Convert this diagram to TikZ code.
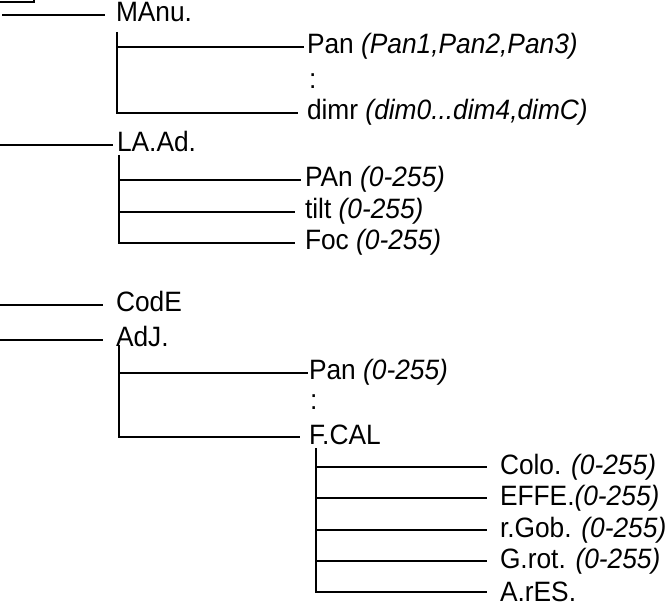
\documentclass[tikz,border=0pt]{standalone}
\usepackage{fontspec}
\setmainfont[FakeStretch=0.94]{Liberation Sans}
\usepackage{tikz}

\tikzset{
  item/.style={anchor=west, inner sep=0pt, text height=20pt, text depth=6pt,
    font=\fontsize{28}{32}\selectfont},
}

\begin{document}
\begin{tikzpicture}[x=1pt, y=-1pt, line width=2pt]
\useasboundingbox (0,0) rectangle (670,604) ;
% box corner
\draw (-10,-10) rectangle (34,2) ;
%% level 1
\node[item] (manu) at (115,15) {MAnu.} ;
\node[item] (laad) at (116,145) {LA.Ad.} ;
\node[item] (code) at (115,305) {CodE} ;
\node[item] (adj) at (115,340) {AdJ.} ;
\coordinate (r1) at (2,15) ;
\coordinate (r2) at (0,145) ;
\coordinate (r3) at (0,305) ;
\coordinate (r4) at (0,340) ;
\draw[shorten >=10pt] (r1) -- (manu.west) ;
\draw[shorten >=3pt] (r2) -- (laad.west) ;
\draw[shorten >=12pt] (r3) -- (code.west) ;
\draw[shorten >=12pt] (r4) -- (adj.west) ;
% box MAnu.
\node[item] (pana) at (306,47) {Pan \textit{(Pan1,Pan2,Pan3)}} ;
\node[item] (dota) at (308,82) {:} ;
\node[item] (dimr) at (306,113) {dimr \textit{(dim0...dim4,dimC)}} ;
\coordinate (va) at (117,32) ;
\draw[shorten >=2pt] (va |- pana.west) -- (pana.west) ;
\draw[shorten >=8pt] (va) |- (dimr.west) ;
% box LA.Ad.
\node[item] (panb) at (304,180) {PAn \textit{(0-255)}} ;
\node[item] (tilt) at (304,212) {tilt \textit{(0-255)}} ;
\node[item] (foc) at (304,243) {Foc \textit{(0-255)}} ;
\coordinate (vb) at (119,155) ;
\draw[shorten >=3pt] (vb |- panb.west) -- (panb.west) ;
\draw[shorten >=9pt] (vb |- tilt.west) -- (tilt.west) ;
\draw[shorten >=9pt] (vb) |- (foc.west) ;
% box AdJ.
\node[item] (panc) at (308,373) {Pan \textit{(0-255)}} ;
\node[item] (dotc) at (309,402) {:} ;
\node[item] (fcal) at (308,437) {F.CAL} ;
\coordinate (vc) at (119,345) ;
\draw (vc |- panc.west) -- (panc.west) ;
\draw[shorten >=8pt] (vc) |- (fcal.west) ;
%% box F.CAL
\node[item] (colo) at (499,467) {Colo. \textit{(0-255)}} ;
\node[item] (effe) at (499,498) {EFFE.\textit{(0-255)}} ;
\node[item] (rgob) at (499,530) {r.Gob. \textit{(0-255)}} ;
\node[item] (grot) at (499,561) {G.rot. \textit{(0-255)}} ;
\node[item, text depth=1pt] (ares) at (499,592) {A.rES.} ;
\coordinate (vd) at (316,448) ;
\draw[shorten >=12pt] (vd |- colo.west) -- (colo.west) ;
\draw[shorten >=12pt] (vd |- effe.west) -- (effe.west) ;
\draw[shorten >=12pt] (vd |- rgob.west) -- (rgob.west) ;
\draw[shorten >=12pt] (vd |- grot.west) -- (grot.west) ;
\draw[shorten >=12pt] (vd) |- (ares.west) ;
\end{tikzpicture}
\end{document}
